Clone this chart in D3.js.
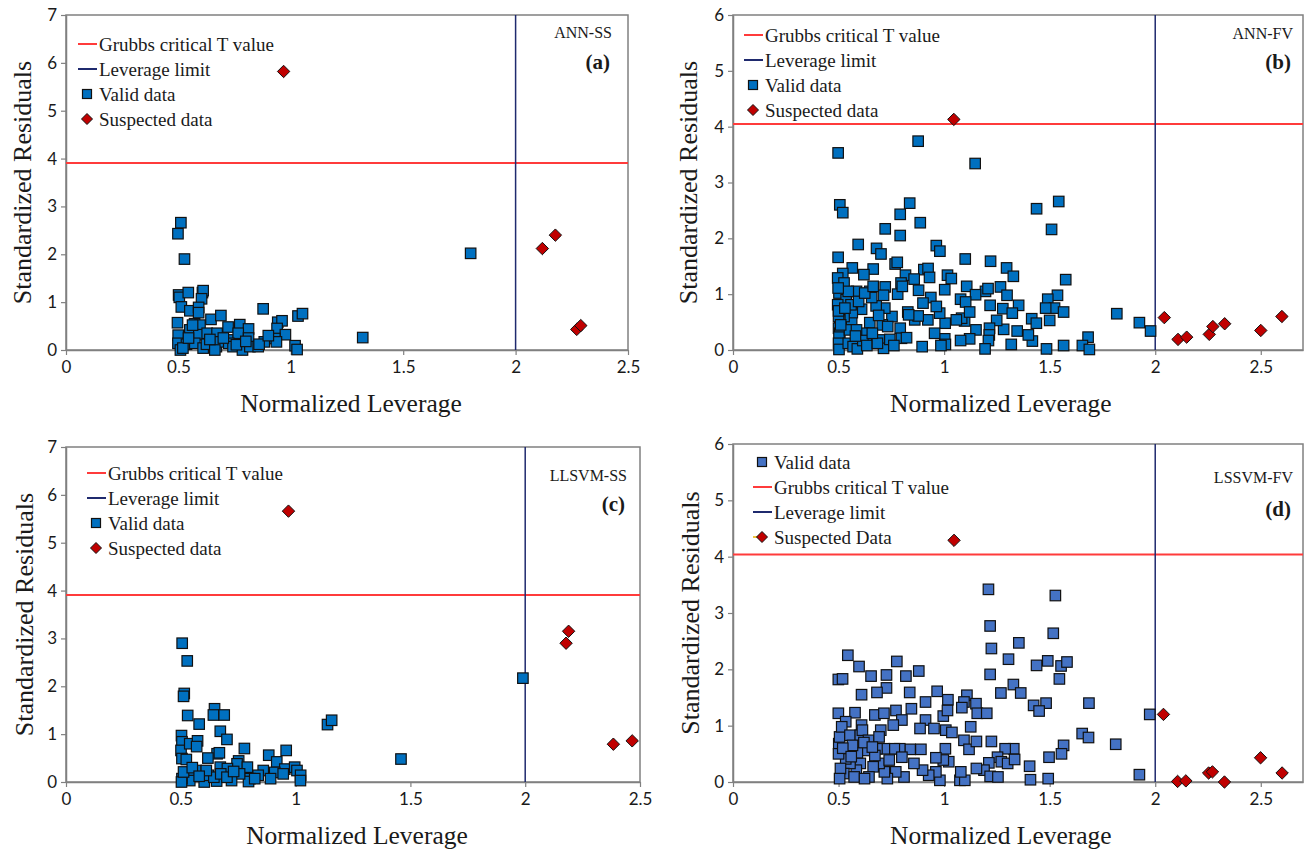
<!DOCTYPE html>
<html><head><meta charset="utf-8">
<script src="https://cdn.jsdelivr.net/npm/d3@7"></script>
<style>body{margin:0;background:#fff}svg{display:block}</style>
</head><body><svg id="c" width="1310" height="849"></svg>
<script>
// ---------------- DATA ----------------
const xTicksA = [0, 0.5, 1, 1.5, 2, 2.5];
const yTicks7 = [0, 1, 2, 3, 4, 5, 6, 7];
const yTicks6 = [0, 1, 2, 3, 4, 5, 6];
const panelNames = ["ANN-SS", "ANN-FV", "LLSVM-SS", "LSSVM-FV"];
const panelLetters = ["(a)", "(b)", "(c)", "(d)"];
const grubbsT = [3.91, 4.05, 3.91, 4.04];
const leverageLimit = [2, 2, 2, 2];

const validA = [[0.511,2.66],[0.498,2.43],[0.527,1.90],[1.80,2.02],[1.32,0.26],[0.501,1.15],[0.504,1.10],[0.544,1.20],[0.607,1.20],[0.61,1.24],[0.603,1.07],[0.513,0.90],[0.551,0.82],[0.59,0.89],[0.59,0.78],[0.645,0.64],[0.689,0.72],[0.877,0.86],[1.032,0.71],[1.052,0.76],[0.496,0.57],[0.572,0.55],[0.596,0.52],[0.721,0.48],[0.773,0.53],[0.812,0.44],[0.942,0.58],[0.961,0.61],[0.939,0.45],[0.976,0.32],[0.499,0.31],[0.551,0.42],[0.591,0.32],[0.628,0.35],[0.672,0.35],[0.721,0.21],[0.766,0.35],[0.812,0.25],[0.882,0.17],[0.929,0.24],[0.936,0.17],[0.498,0.14],[0.536,0.12],[0.573,0.14],[0.61,0.04],[0.625,0.12],[0.669,0.07],[0.684,0.17],[0.724,0.14],[0.743,0.07],[0.785,0.0],[0.818,0.07],[0.855,0.07],[1.019,0.09],[1.028,0.01],[0.509,0.0],[0.662,0.0],[0.758,0.11],[0.859,0.12],[0.52,0.04],[0.563,0.52],[0.70,0.25],[0.80,0.18],[0.64,0.22],[0.545,0.25],[0.90,0.30]];
const suspectA = [[0.968,5.82],[2.119,2.12],[2.177,2.40],[2.272,0.43],[2.29,0.51]];

const validB = [[0.498,3.53],[0.877,3.74],[1.147,3.34],[0.506,2.60],[0.52,2.46],[0.837,2.63],[0.792,2.43],[0.887,2.28],[0.721,2.17],[0.792,2.05],[1.438,2.53],[1.543,2.66],[1.509,2.16],[0.593,1.89],[0.498,1.66],[0.68,1.82],[0.701,1.72],[0.963,1.87],[0.98,1.77],[1.1,1.63],[1.22,1.59],[0.565,1.47],[0.768,1.54],[0.778,1.57],[0.904,1.44],[0.924,1.46],[1.296,1.47],[1.328,1.32],[1.576,1.26],[0.664,1.45],[0.52,1.37],[0.62,1.35],[0.817,1.34],[0.858,1.27],[0.931,1.30],[1.016,1.34],[1.034,1.28],[0.496,1.29],[0.526,1.20],[0.796,1.20],[0.721,1.13],[1.107,1.14],[1.003,1.08],[0.585,1.05],[0.648,1.05],[0.879,1.07],[1.196,1.05],[1.208,1.10],[1.267,1.13],[1.149,0.99],[1.298,0.98],[1.537,0.98],[0.713,0.98],[0.78,1.00],[0.502,1.02],[0.937,0.94],[1.078,0.91],[1.102,0.86],[1.218,0.80],[1.491,0.91],[1.523,0.75],[1.566,0.68],[1.353,0.80],[1.278,0.74],[1.323,0.66],[1.415,0.56],[1.437,0.48],[1.5,0.53],[1.481,0.75],[1.818,0.65],[1.925,0.49],[1.978,0.34],[1.682,0.23],[1.655,0.08],[1.688,0.01],[1.566,0.08],[1.485,0.02],[1.418,0.16],[1.399,0.27],[1.346,0.34],[1.318,0.10],[1.282,0.37],[1.249,0.53],[1.215,0.39],[1.214,0.27],[1.21,0.17],[1.194,0.02],[1.151,0.36],[1.121,0.20],[1.078,0.17],[1.097,0.52],[1.083,0.57],[1.121,0.68],[1.058,0.54],[1.005,0.48],[1.003,0.20],[1.006,0.10],[0.985,0.08],[0.955,0.30],[0.979,0.66],[0.963,0.78],[0.9,0.84],[0.923,0.54],[0.896,0.06],[0.861,0.54],[0.877,0.61],[0.828,0.68],[0.832,0.63],[0.792,0.39],[0.798,0.21],[0.822,0.22],[0.753,0.60],[0.719,0.75],[0.678,0.79],[0.657,0.94],[0.707,0.45],[0.703,0.18],[0.713,0.03],[0.648,0.49],[0.632,0.20],[0.617,0.30],[0.609,0.73],[0.562,0.52],[0.565,0.67],[0.526,0.60],[0.506,0.54],[0.5,0.39],[0.506,0.30],[0.502,0.23],[0.5,0.12],[0.502,0.01],[0.546,0.12],[0.569,0.06],[0.589,0.02],[0.615,0.17],[0.634,0.08],[0.684,0.12],[0.743,0.19],[0.762,0.08],[0.536,0.90],[0.546,1.05],[0.559,0.81],[0.552,0.36],[0.595,0.87],[0.624,1.02],[0.664,1.14],[0.496,0.81],[0.498,1.11],[0.5,0.60],[0.585,0.36],[0.733,0.42],[0.802,1.14],[0.50,0.70],[0.51,0.45],[0.53,0.75],[0.58,0.25],[0.66,0.30],[0.69,0.62]];
const suspectB = [[1.046,4.13],[2.043,0.58],[2.108,0.19],[2.149,0.23],[2.256,0.28],[2.273,0.42],[2.329,0.47],[2.5,0.35],[2.60,0.60]];

const validC = [[0.506,2.90],[0.528,2.53],[0.515,1.85],[0.512,1.79],[1.99,2.17],[1.459,0.48],[1.139,1.20],[1.157,1.29],[0.53,1.39],[0.58,1.21],[0.647,1.53],[0.642,1.40],[0.689,1.40],[0.672,1.06],[0.701,0.89],[0.658,0.59],[0.668,0.61],[0.618,0.50],[0.777,0.70],[0.883,0.56],[0.959,0.66],[0.503,0.97],[0.505,0.84],[0.501,0.66],[0.539,0.80],[0.573,0.86],[0.569,0.74],[0.505,0.49],[0.524,0.47],[0.918,0.42],[0.752,0.44],[0.745,0.38],[0.79,0.31],[0.672,0.31],[0.703,0.28],[0.859,0.24],[0.953,0.27],[0.996,0.31],[1.006,0.24],[1.022,0.14],[1.021,0.03],[0.909,0.20],[0.837,0.14],[0.801,0.07],[0.795,0.01],[0.756,0.17],[0.721,0.03],[0.656,0.02],[0.602,0.0],[0.566,0.24],[0.548,0.17],[0.539,0.03],[0.505,0.07],[0.503,0.0],[0.512,0.21],[0.62,0.14],[0.644,0.10],[0.674,0.17],[0.701,0.10],[0.891,0.07],[0.946,0.17],[0.611,0.24],[0.822,0.07],[0.55,0.30],[0.58,0.12],[0.73,0.22]];
const suspectC = [[0.969,5.66],[2.189,3.15],[2.178,2.90],[2.384,0.79],[2.466,0.86]];

const validD = [[1.21,3.42],[1.527,3.31],[1.218,2.77],[1.517,2.64],[1.224,2.37],[1.354,2.47],[1.305,2.18],[0.544,2.25],[0.597,2.05],[0.776,2.14],[0.88,1.97],[0.819,1.88],[0.654,1.88],[0.727,1.90],[0.499,1.82],[0.519,1.83],[1.218,1.91],[1.438,2.07],[1.491,2.15],[1.554,2.06],[1.582,2.13],[1.546,1.83],[1.328,1.73],[1.363,1.58],[1.269,1.58],[0.609,1.55],[0.727,1.67],[0.682,1.59],[0.837,1.59],[0.967,1.61],[1.018,1.46],[0.912,1.42],[1.108,1.54],[1.094,1.42],[1.151,1.39],[1.157,1.22],[1.202,1.22],[1.424,1.36],[1.483,1.40],[1.45,1.26],[1.686,1.40],[1.974,1.20],[0.499,1.22],[0.578,1.23],[0.672,1.19],[0.715,1.22],[0.772,1.27],[0.8,1.10],[0.845,1.30],[0.912,1.10],[0.996,1.17],[1.016,1.27],[1.084,1.32],[1.126,0.98],[0.534,1.07],[0.609,1.01],[0.7,0.92],[0.759,1.01],[0.886,0.95],[0.952,0.95],[1.008,0.92],[1.037,0.88],[1.094,0.74],[1.118,0.58],[1.153,0.72],[1.224,0.72],[1.654,0.86],[1.684,0.79],[1.813,0.67],[1.566,0.65],[1.556,0.50],[1.497,0.44],[1.925,0.13],[1.493,0.06],[1.409,0.04],[1.405,0.28],[1.33,0.59],[1.289,0.59],[1.253,0.44],[1.271,0.36],[1.301,0.33],[1.334,0.40],[1.212,0.34],[1.189,0.21],[1.153,0.24],[1.218,0.10],[1.255,0.09],[1.075,0.03],[1.098,0.03],[1.079,0.18],[1.022,0.36],[0.996,0.39],[1.006,0.59],[0.961,0.43],[0.98,0.03],[0.961,0.18],[0.927,0.12],[0.898,0.21],[0.89,0.58],[0.839,0.58],[0.79,0.59],[0.764,0.59],[0.717,0.59],[0.682,0.59],[0.633,0.56],[0.8,0.44],[0.857,0.33],[0.81,0.09],[0.771,0.18],[0.731,0.06],[0.717,0.18],[0.692,0.33],[0.664,0.27],[0.644,0.09],[0.603,0.33],[0.584,0.21],[0.554,0.33],[0.534,0.41],[0.525,0.15],[0.509,0.24],[0.505,0.06],[0.501,0.68],[0.505,0.80],[0.515,0.98],[0.554,0.83],[0.603,0.83],[0.613,0.92],[0.642,0.74],[0.589,0.52],[0.566,0.65],[0.692,0.80],[0.672,0.47],[0.74,0.39],[0.574,0.09],[0.623,0.06],[0.50,0.50],[0.52,0.60],[0.56,0.45],[0.62,0.70],[0.66,0.62]];
const suspectD = [[1.047,4.29],[2.039,1.20],[2.106,0.01],[2.145,0.02],[2.253,0.16],[2.271,0.18],[2.328,0.0],[2.499,0.43],[2.601,0.16]];

const legendStd = ["Grubbs critical T value", "Leverage limit", "Valid data", "Suspected data"];
const legendD = ["Valid data", "Grubbs critical T value", "Leverage limit", "Suspected Data"];

// ---------------- LAYOUT ----------------
const panels = [
  {valid: validA, sus: suspectA, xmax: 2.5, ymax: 7, yt: yTicks7, L: 66, R: 628, T: 15, B: 350, fill: "#0070C0",
   legend: legendStd, legX: 78, legY: 44, ytx: 22, name: panelNames[0], letter: panelLetters[0], nameR: 612, nameY: 38, letY: 69},
  {valid: validB, sus: suspectB, xmax: 2.7, ymax: 6, yt: yTicks6, L: 733, R: 1303, T: 15, B: 350, fill: "#0070C0",
   legend: legendStd, legX: 744, legY: 35, ytx: 688, name: panelNames[1], letter: panelLetters[1], nameR: 1293, nameY: 39, letY: 69},
  {valid: validC, sus: suspectC, xmax: 2.5, ymax: 7, yt: yTicks7, L: 66, R: 640, T: 447, B: 782, fill: "#0070C0",
   legend: legendStd, legX: 87, legY: 473, ytx: 24, name: panelNames[2], letter: panelLetters[2], nameR: 627, nameY: 481, letY: 511},
  {valid: validD, sus: suspectD, xmax: 2.7, ymax: 6, yt: yTicks6, L: 733, R: 1303, T: 444, B: 782, fill: "#4472C4",
   legend: legendD, legX: 753, legY: 462, ytx: 690, name: panelNames[3], letter: panelLetters[3], nameR: 1293, nameY: 483, letY: 516}
];

const svg = d3.select("#c");
const serif = "'Liberation Serif','Times New Roman',serif";
const sans = "Lato,'Open Sans',sans-serif";
const axisCol = "#808080";

function diamondPath(r) { return `M0,${-r}L${r},0L0,${r}L${-r},0Z`; }

panels.forEach((p, i) => {
  const x = d3.scaleLinear().domain([0, p.xmax]).range([p.L, p.R]);
  const y = d3.scaleLinear().domain([0, p.ymax]).range([p.B, p.T]);
  const g = svg.append("g");

  g.append("rect").attr("x", p.L).attr("y", p.T).attr("width", p.R - p.L).attr("height", p.B - p.T)
    .attr("fill", "none").attr("stroke", axisCol).attr("stroke-width", 1.5);

  const ya = g.append("g").attr("transform", `translate(${p.L},0)`)
    .call(d3.axisLeft(y).tickValues(p.yt).tickSize(5).tickSizeOuter(0).tickFormat(d3.format("d")));
  const xa = g.append("g").attr("transform", `translate(0,${p.B})`)
    .call(d3.axisBottom(x).tickValues(xTicksA).tickSize(5).tickSizeOuter(0).tickFormat(d => d));
  [ya, xa].forEach(a => {
    a.select(".domain").attr("stroke", axisCol).attr("stroke-width", 1.5);
    a.selectAll(".tick line").attr("stroke", axisCol).attr("stroke-width", 1.2);
    a.selectAll("text").attr("font-family", sans).attr("font-size", 17).attr("fill", "#1a1a1a");
  });
  ya.selectAll("text").attr("x", -9);
  xa.selectAll("text").attr("y", 11);

  g.append("text").attr("x", (p.L + Math.min(p.R, x(2.5))) / 2 + 4).attr("y", p.B + 62)
    .attr("text-anchor", "middle").attr("font-family", serif).attr("font-size", 25.5).attr("fill", "#1a1a1a")
    .text("Normalized Leverage");
  g.append("text").attr("transform", `translate(${p.ytx},${(p.T + p.B) / 2}) rotate(-90)`)
    .attr("text-anchor", "middle").attr("dominant-baseline", "central")
    .attr("font-family", serif).attr("font-size", 26).attr("fill", "#1a1a1a")
    .text("Standardized Residuals");

  g.append("line").attr("x1", p.L).attr("x2", p.R).attr("y1", y(grubbsT[i])).attr("y2", y(grubbsT[i]))
    .attr("stroke", "#FF3B3B").attr("stroke-width", 2);
  g.append("line").attr("x1", x(leverageLimit[i])).attr("x2", x(leverageLimit[i])).attr("y1", p.T).attr("y2", p.B)
    .attr("stroke", "#1F2A6E").attr("stroke-width", 1.5);

  g.selectAll("rect.v").data(p.valid).join("rect").attr("class", "v")
    .attr("x", d => x(d[0]) - 5.25).attr("y", d => y(d[1]) - 5.25).attr("width", 10.5).attr("height", 10.5)
    .attr("fill", p.fill).attr("stroke", "#111").attr("stroke-width", 1.2);
  g.selectAll("path.s").data(p.sus).join("path").attr("class", "s")
    .attr("transform", d => `translate(${x(d[0])},${y(d[1])})`)
    .attr("d", diamondPath(6.2)).attr("fill", "#C00000").attr("stroke", "#111").attr("stroke-width", 1);

  g.append("text").attr("x", p.nameR).attr("y", p.nameY).attr("text-anchor", "end")
    .attr("font-family", serif).attr("font-size", 16).attr("fill", "#1a1a1a").text(p.name);
  g.append("text").attr("x", p.nameR - 2).attr("y", p.letY).attr("text-anchor", "end")
    .attr("font-family", serif).attr("font-size", 21).attr("font-weight", "bold").attr("fill", "#1a1a1a").text(p.letter);

  p.legend.forEach((lab, k) => {
    const ly = p.legY + k * 25;
    const mx = p.legX + 9;
    if (lab.startsWith("Grubbs")) {
      g.append("line").attr("x1", p.legX).attr("x2", p.legX + 19).attr("y1", ly).attr("y2", ly)
        .attr("stroke", "#FF3B3B").attr("stroke-width", 2);
    } else if (lab.startsWith("Leverage")) {
      g.append("line").attr("x1", p.legX).attr("x2", p.legX + 19).attr("y1", ly).attr("y2", ly)
        .attr("stroke", "#1F2A6E").attr("stroke-width", 2);
    } else if (lab.startsWith("Valid")) {
      g.append("rect").attr("x", mx - 4.5).attr("y", ly - 4.5).attr("width", 9).attr("height", 9)
        .attr("fill", p.fill).attr("stroke", "#111").attr("stroke-width", 1.2);
    } else {
      if (i === 3) g.append("line").attr("x1", p.legX).attr("x2", mx).attr("y1", ly).attr("y2", ly)
        .attr("stroke", "#E8B400").attr("stroke-width", 1.5);
      g.append("path").attr("transform", `translate(${mx},${ly})`).attr("d", diamondPath(5.5))
        .attr("fill", "#C00000").attr("stroke", "#111").attr("stroke-width", 1);
    }
    g.append("text").attr("x", p.legX + 21).attr("y", ly).attr("dominant-baseline", "central")
      .attr("font-family", serif).attr("font-size", 19).attr("fill", "#1a1a1a").text(lab);
  });
});
</script>
</body></html>
